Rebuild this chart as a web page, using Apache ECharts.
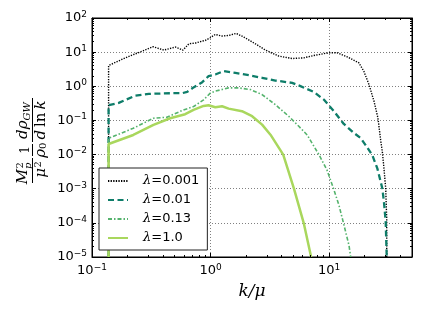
<!DOCTYPE html>
<html>
<head>
<meta charset="utf-8">
<script src="https://cdn.jsdelivr.net/npm/echarts@6/dist/echarts.min.js"></script>
<style>
html,body{margin:0;padding:0;background:#fff;}
#c{width:421px;height:316px;}
</style>
</head>
<body>
<div id="c"></div>
<script>
// ---- data (k/mu , spectrum) ----
const kBlack = [0.138, 0.138, 0.191, 0.265, 0.328, 0.404, 0.506, 0.585, 0.657, 0.747, 0.851, 0.902, 0.994, 1.096, 1.25, 1.42, 1.64, 1.84, 2.31, 2.90, 3.76, 4.88, 6.11, 7.43, 9.94, 11.7, 14.2, 17.8, 19.6, 21.7, 23.9, 25.8, 27.2, 28.1, 29.0, 30.0, 30.6, 30.6];
const vBlack = [1e-5, 4.06, 6.8, 10.7, 14.4, 11.5, 14.1, 11.5, 17.6, 18.5, 21.1, 22, 26.4, 33, 29.6, 30.8, 35.3, 29.6, 18.8, 11.5, 7.66, 6.5, 6.8, 7.98, 9.58, 9.58, 7.3, 4.87, 2.78, 1.12, 0.366, 0.118, 0.0267, 0.0121, 0.00394, 0.00102, 1.34e-4, 1e-5];

const kTeal = [0.138, 0.138, 0.168, 0.232, 0.301, 0.366, 0.474, 0.576, 0.635, 0.724, 0.851, 0.962, 1.096, 1.29, 1.62, 2.10, 2.72, 3.52, 4.88, 5.73, 7.43, 9.02, 10.96, 13.3, 16.2, 18.4, 20.3, 23.1, 25.5, 28.1, 29.0, 30.0, 30.6];
const vTeal = [1e-5, 0.279, 0.326, 0.534, 0.599, 0.611, 0.628, 0.628, 0.686, 0.942, 1.32, 1.98, 2.21, 2.78, 2.48, 2.12, 1.77, 1.47, 1.26, 1.01, 0.686, 0.407, 0.186, 0.0788, 0.0429, 0.0306, 0.019, 0.0097, 0.00394, 0.00102, 4.1e-4, 1.07e-4, 1e-5];

const kGreen = [0.138, 0.138, 0.223, 0.330, 0.428, 0.591, 0.718, 0.873, 0.994, 1.096, 1.42, 1.72, 2.17, 2.72, 3.52, 4.56, 5.55, 6.53, 8.2, 9.6, 10.9, 12.1, 13.2, 14.7, 15.2];
const vGreen = [1e-5, 0.030, 0.0589, 0.116, 0.124, 0.203, 0.254, 0.399, 0.628, 0.719, 0.899, 0.899, 0.801, 0.571, 0.29, 0.133, 0.0675, 0.0375, 0.01, 0.0035, 0.001, 3.3e-4, 1e-4, 2.2e-5, 1e-5];

const kLime = [0.138, 0.138, 0.223, 0.330, 0.456, 0.611, 0.718, 0.873, 0.962, 1.096, 1.25, 1.42, 1.84, 2.24, 2.72, 3.20, 4.1, 5.05, 6.1, 7.05];
const vLime = [1e-5, 0.0204, 0.0375, 0.0737, 0.116, 0.152, 0.203, 0.266, 0.279, 0.244, 0.261, 0.222, 0.186, 0.133, 0.0752, 0.0382, 0.01, 0.001, 1e-4, 1e-5];

const seriesNames = ['λ=0.001', 'λ=0.01', 'λ=0.13', 'λ=1.0'];
const xRange = [0.1, 50];
const yRange = [1e-5, 100];
const tickBase = '10';
const minorMultipliers = [2, 3, 4, 5, 6, 7, 8, 9];
const xDecades = [0.1, 1, 10];
const yDecades = [1e-5, 1e-4, 1e-3, 1e-2, 1e-1, 1, 10];

function pairs(ks, vs) { return ks.map((k, i) => [k, vs[i]]); }

// minor tick values (axis decoration)
const minorData = [];
xDecades.forEach(d => minorMultipliers.forEach(m => { const v = m * d; if (v < xRange[1]) minorData.push([v, 1, 0]); }));
yDecades.forEach(d => minorMultipliers.forEach(m => { const v = m * d; if (v < yRange[1]) minorData.push([1, v, 1]); }));

function expLabel(v) {
  const e = Math.log10(v);
  const r = Math.round(e);
  if (Math.abs(e - r) > 1e-6) return '';
  return '{b|' + tickBase + '}{s|' + String(r).replace('-', '\u2212') + '}';
}
const labelRich = {
  b: { fontFamily: 'DejaVu Sans', fontSize: 13, color: '#000', lineHeight: 16 },
  s: { fontFamily: 'DejaVu Sans', fontSize: 9, color: '#000', lineHeight: 10, verticalAlign: 'top' }
};

const chart = echarts.init(document.getElementById('c'), null, { renderer: 'canvas' });

const baseX = {
  type: 'log', min: xRange[0], max: xRange[1], logBase: 10,
  axisLine: { show: true, lineStyle: { color: '#000', width: 1 } },
  axisTick: { show: true, inside: true, length: 4, lineStyle: { color: '#000', width: 1 } },
  splitLine: { show: false },
  minorTick: { show: false }
};
const baseY = {
  type: 'log', min: yRange[0], max: yRange[1], logBase: 10,
  axisLine: { show: true, lineStyle: { color: '#000', width: 1 } },
  axisTick: { show: true, inside: true, length: 4, lineStyle: { color: '#000', width: 1 } },
  splitLine: { show: false },
  minorTick: { show: false }
};

const F = 'DejaVu Serif';
function T(text, x, y, size, align, valign, italic) {
  return { type: 'text', x: x, y: y, style: { text: text, fontFamily: F, fontSize: size, fontStyle: italic ? 'italic' : 'normal', fill: '#000', align: align, verticalAlign: valign } };
}
function bar(x1, x2) {
  return { type: 'line', shape: { x1: x1, y1: 0, x2: x2, y2: 0 }, style: { stroke: '#000', lineWidth: 1 } };
}

const yLabelGroup = {
  type: 'group', x: 32.5, y: 138, rotation: Math.PI / 2, silent: true,
  children: [
    // M_p^2 / mu^2
    T('M', -31, -2, 15, 'right', 'bottom', true),
    T('2', -30.5, -7, 10, 'left', 'bottom', false),
    T('p', -31, 0.5, 10, 'left', 'bottom', true),
    bar(-45, -20),
    T('μ', -30, 1.5, 15, 'right', 'top', true),
    T('2', -29.5, 0.5, 10, 'left', 'top', false),
    // 1 / rho_0
    T('1', -12, -1, 12, 'center', 'bottom', false),
    bar(-18, -6),
    T('ρ', -11, 1.5, 15, 'right', 'top', true),
    T('0', -11, 6, 10, 'left', 'top', false),
    // d rho_GW / d ln k
    T('dρ', 17.5, -2, 15, 'right', 'bottom', true),
    T('GW', 17.5, 0, 10, 'left', 'bottom', true),
    bar(-4, 40),
    { type: 'text', x: 18, y: 1.5, style: {
        text: '{i|d}{r|\u2009ln\u2009}{i|k}', align: 'center', verticalAlign: 'top',
        rich: { i: { fontFamily: F, fontSize: 15, fontStyle: 'italic', color: '#000' },
                r: { fontFamily: F, fontSize: 15, color: '#000' } } } }
  ]
};

const option = {
  animation: false,
  backgroundColor: '#fff',
  grid: { left: 92, top: 18, width: 320, height: 239, show: true, borderColor: '#000', borderWidth: 1, backgroundColor: 'transparent' },
  xAxis: [
    Object.assign({}, baseX, {
      position: 'bottom',
      axisLabel: { show: true, margin: 6, formatter: expLabel, rich: labelRich },
      splitLine: { show: true, lineStyle: { color: '#808080', width: 1, type: [1, 2] } }
    }),
    Object.assign({}, baseX, { position: 'top', axisLabel: { show: false } })
  ],
  yAxis: [
    Object.assign({}, baseY, {
      position: 'left',
      axisLabel: { show: true, margin: 5, formatter: expLabel, rich: labelRich },
      splitLine: { show: true, lineStyle: { color: '#808080', width: 1, type: [1, 2] } }
    }),
    Object.assign({}, baseY, { position: 'right', axisLabel: { show: false } })
  ],
  legend: {
    data: seriesNames,
    orient: 'vertical', left: 99, top: 168,
    padding: [6, 8, 5, 8],
    itemWidth: 20, itemHeight: 10, itemGap: 5,
    borderColor: '#222', borderWidth: 1, borderRadius: 0, backgroundColor: '#fff',
    itemStyle: { color: 'rgba(0,0,0,0)', borderColor: 'rgba(0,0,0,0)', borderWidth: 0, opacity: 0 },
    formatter: name => '{g|λ}{t|' + name.slice(1) + '}',
    textStyle: {
      padding: [0, 0, 0, 10], lineHeight: 14,
      rich: {
        g: { fontFamily: F, fontStyle: 'italic', fontSize: 13, color: '#000', lineHeight: 14 },
        t: { fontFamily: 'DejaVu Sans', fontSize: 13, color: '#000', lineHeight: 14 }
      }
    },
    z: 10
  },
  graphic: [
    yLabelGroup,
    { type: 'text', x: 252, y: 292, silent: true,
      style: { text: 'k/μ', fontFamily: F, fontStyle: 'italic', fontSize: 17, fill: '#000', align: 'center', verticalAlign: 'middle' } }
  ],
  series: [
    { type: 'custom', name: 'minorTicks', xAxisIndex: 0, yAxisIndex: 0, silent: true, clip: false, z: 5,
      data: minorData,
      renderItem: function (params, api) {
        const cs = params.coordSys;
        const kind = api.value(2);
        const st = { stroke: '#000', lineWidth: 1 };
        if (kind === 0) {
          let px = api.coord([api.value(0), 1])[0];
          px = Math.round(px - 0.5) + 0.5;
          const yb = cs.y + cs.height, yt = cs.y;
          return { type: 'group', children: [
            { type: 'line', shape: { x1: px, y1: yb, x2: px, y2: yb - 2 }, style: st },
            { type: 'line', shape: { x1: px, y1: yt, x2: px, y2: yt + 2 }, style: st }
          ] };
        } else {
          let py = api.coord([1, api.value(1)])[1];
          py = Math.round(py - 0.5) + 0.5;
          const xl = cs.x, xr = cs.x + cs.width;
          return { type: 'group', children: [
            { type: 'line', shape: { x1: xl, y1: py, x2: xl + 2, y2: py }, style: st },
            { type: 'line', shape: { x1: xr, y1: py, x2: xr - 2, y2: py }, style: st }
          ] };
        }
      }
    },
    { type: 'line', name: seriesNames[0], data: pairs(kBlack, vBlack), showSymbol: false, symbol: 'none', clip: true,
      lineStyle: { color: '#000', width: 1.4, type: [1.3, 1.3] }, itemStyle: { color: '#000' }, z: 2 },
    { type: 'line', name: seriesNames[1], data: pairs(kTeal, vTeal), showSymbol: false, symbol: 'none', clip: true,
      lineStyle: { color: '#0e7d69', width: 2.3, type: [6, 3.5] }, itemStyle: { color: '#0e7d69' }, z: 3 },
    { type: 'line', name: seriesNames[2], data: pairs(kGreen, vGreen), showSymbol: false, symbol: 'none', clip: true,
      lineStyle: { color: '#55b36d', width: 1.6, type: [4, 2, 1.5, 2] }, itemStyle: { color: '#55b36d' }, z: 4 },
    { type: 'line', name: seriesNames[3], data: pairs(kLime, vLime), showSymbol: false, symbol: 'none', clip: true,
      lineStyle: { color: '#a9d75d', width: 2.5, type: 'solid' }, itemStyle: { color: '#a9d75d' }, z: 4 }
  ]
};
chart.setOption(option);
</script>
</body>
</html>
